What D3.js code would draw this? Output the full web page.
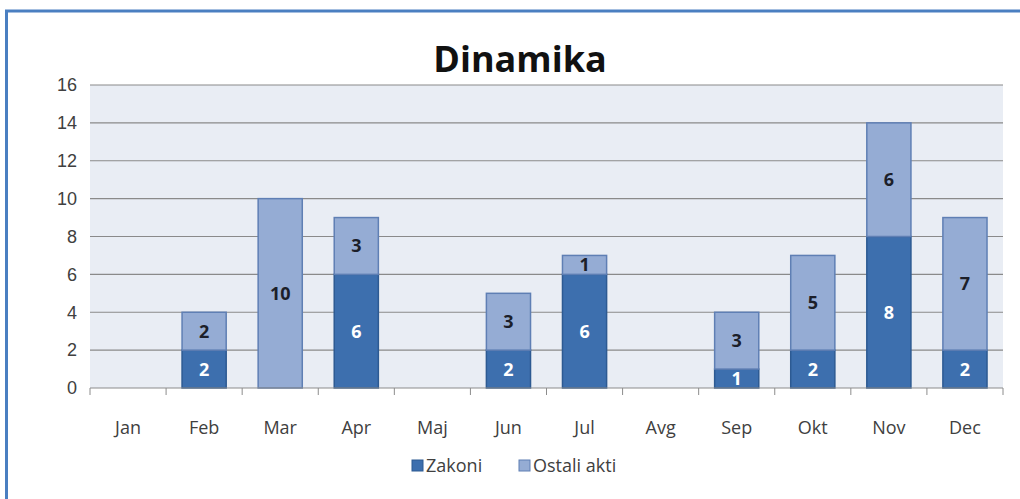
<!DOCTYPE html>
<html>
<head>
<meta charset="utf-8">
<script src="https://cdn.jsdelivr.net/npm/d3@7"></script>
<style>
  body { margin: 0; background: #fff; }
  svg { font-family: 'Open Sans', 'Liberation Sans', sans-serif; }
  .axis text { font-size: 18px; fill: #404040; }
  .axis path, .axis line { stroke: #8c8c8c; }
</style>
</head>
<body>
<svg id="chart"></svg>
<script>
//data
const months = ['Jan', 'Feb', 'Mar', 'Apr', 'Maj', 'Jun', 'Jul', 'Avg', 'Sep', 'Okt', 'Nov', 'Dec'];
const zakoni = [0, 2, 0, 6, 0, 2, 6, 0, 1, 2, 8, 2];
const ostali = [0, 2, 10, 3, 0, 3, 1, 0, 3, 5, 6, 7];
const seriesNames = ['Zakoni', 'Ostali akti'];
const yTicks = [0, 2, 4, 6, 8, 10, 12, 14, 16];

const colors = { 'Zakoni': '#3d6fae', 'Ostali akti': '#95acd4' };
const strokes = { 'Zakoni': '#2d5a92', 'Ostali akti': '#5f7fb4' };

//margin convention
const W = 1020, H = 499;
const margin = { top: 85, left: 90, bottom: 111, right: 17 };
const width = W - margin.left - margin.right;
const height = H - margin.top - margin.bottom;

const root = d3.select('#chart').attr('width', W).attr('height', H);

//outer frame
root.append('line').attr('x1', 5).attr('x2', W).attr('y1', 11).attr('y2', 11)
  .attr('stroke', '#4a7fc1').attr('stroke-width', 3);
root.append('line').attr('x1', 6.5).attr('x2', 6.5).attr('y1', 10).attr('y2', H)
  .attr('stroke', '#4a7fc1').attr('stroke-width', 3);

const svg = root.append('g')
  .attr('transform', 'translate(' + margin.left + ',' + margin.top + ')');

//scales
const xScale = d3.scaleBand().domain(months).range([0, width]).paddingInner(0.42).paddingOuter(0.21);
const xTickScale = d3.scaleLinear().domain([0, months.length]).range([0, width]);
const yScale = d3.scaleLinear().domain([0, 16]).range([height, 0]);

//plot background
svg.append('rect')
  .attr('width', width).attr('height', height)
  .attr('fill', '#e9edf4');

//gridlines
svg.append('g')
  .selectAll('line')
  .data(yTicks.filter(d => d > 0))
  .enter()
  .append('line')
    .attr('x1', 0).attr('x2', width)
    .attr('y1', d => yScale(d)).attr('y2', d => yScale(d))
    .attr('stroke', '#8a8a8a').attr('stroke-width', 1.2);

//stack
const table = months.map((m, i) => ({ month: m, 'Zakoni': zakoni[i], 'Ostali akti': ostali[i] }));
const stacked = d3.stack().keys(seriesNames)(table);

const layers = svg.append('g')
  .selectAll('g')
  .data(stacked)
  .enter()
  .append('g')
    .attr('fill', d => colors[d.key])
    .attr('stroke', d => strokes[d.key]);

layers.selectAll('rect')
  .data(d => d.filter(s => s[1] > s[0]))
  .enter()
  .append('rect')
    .attr('x', d => xScale(d.data.month))
    .attr('y', d => yScale(d[1]))
    .attr('width', xScale.bandwidth())
    .attr('height', d => yScale(d[0]) - yScale(d[1]))
    .attr('stroke-width', 1.5);

//value labels
stacked.forEach(layer => {
  svg.append('g')
    .selectAll('text')
    .data(layer.filter(s => s[1] > s[0]))
    .enter()
    .append('text')
      .attr('x', d => xScale(d.data.month) + xScale.bandwidth() / 2)
      .attr('y', d => (yScale(d[0]) + yScale(d[1])) / 2)
      .attr('dy', '0.36em')
      .attr('text-anchor', 'middle')
      .style('font-size', '18px')
      .style('font-weight', 'bold')
      .attr('fill', layer.key === 'Zakoni' ? '#ffffff' : '#1c1f2a')
      .text(d => d[1] - d[0]);
});

//x axis line + ticks between categories
const xAxisG = svg.append('g').attr('class', 'axis').attr('transform', 'translate(0,' + height + ')');
xAxisG.append('line').attr('x1', 0).attr('x2', width).attr('stroke', '#8c8c8c').attr('stroke-width', 1.2);
xAxisG.selectAll('.tk')
  .data(d3.range(months.length + 1))
  .enter()
  .append('line')
    .attr('class', 'tk')
    .attr('x1', d => xTickScale(d)).attr('x2', d => xTickScale(d))
    .attr('y1', 0).attr('y2', 7);
xAxisG.selectAll('.lbl')
  .data(months)
  .enter()
  .append('text')
    .attr('class', 'lbl')
    .attr('x', d => xScale(d) + xScale.bandwidth() / 2)
    .attr('y', 46)
    .attr('text-anchor', 'middle')
    .text(d => d);

//y axis labels
const yAxis = d3.axisLeft(yScale).tickValues(yTicks).tickSize(0).tickPadding(13);
svg.append('g')
  .attr('class', 'axis')
  .call(yAxis)
  .call(g => g.select('.domain').remove());

//title
root.append('text')
  .attr('x', 520).attr('y', 72)
  .attr('text-anchor', 'middle')
  .style('font-size', '36px')
  .style('font-weight', 'bold')
  .attr('fill', '#111')
  .text('Dinamika');

//legend
const legend = root.append('g').attr('transform', 'translate(412,466)');
const legendX = [0, 107];
seriesNames.forEach((name, i) => {
  const item = legend.append('g').attr('transform', 'translate(' + legendX[i] + ',0)');
  item.append('rect')
    .attr('x', 0).attr('y', -6).attr('width', 11).attr('height', 11)
    .attr('fill', colors[name]).attr('stroke', strokes[name]);
  item.append('text')
    .attr('x', 14).attr('y', 0).attr('dy', '0.35em')
    .style('font-size', '18px')
    .attr('fill', '#404040')
    .text(name);
});
</script>
</body>
</html>
